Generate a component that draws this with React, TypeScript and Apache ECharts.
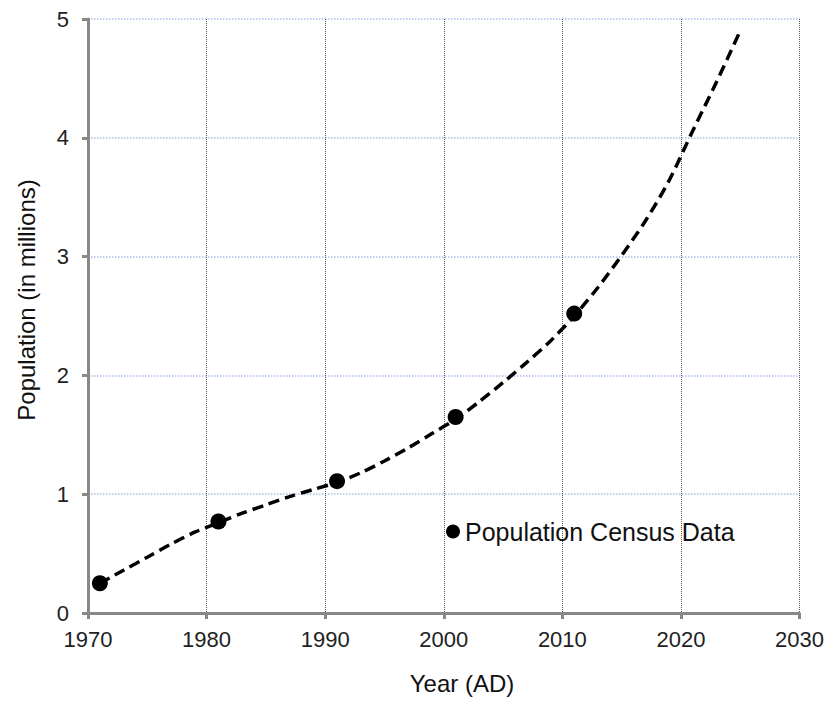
import React, { useEffect, useRef } from "react";
import * as echarts from "echarts";

const censusYears = [1971, 1981, 1991, 2001, 2011];
const censusValues = [0.25, 0.77, 1.11, 1.65, 2.52];

const fitYears = [1971, 1973, 1975, 1977, 1979, 1981, 1983, 1985, 1987, 1989, 1991, 1993, 1995, 1997, 1999, 2001, 2003, 2005, 2007, 2009, 2011, 2013, 2015, 2017, 2019, 2021, 2023, 2025];
const fitValues = [0.25, 0.36, 0.47, 0.58, 0.68, 0.76, 0.84, 0.91, 0.98, 1.04, 1.1, 1.18, 1.28, 1.39, 1.51, 1.63, 1.78, 1.94, 2.11, 2.29, 2.5, 2.74, 3.01, 3.3, 3.64, 4.06, 4.47, 4.9];

const xTicks = { min: 1970, max: 2030, interval: 10 };
const yTicks = { min: 0, max: 5, interval: 1 };

const FONT = "'Liberation Sans', Arial, sans-serif";

export default function App() {
  const ref = useRef<HTMLDivElement>(null);
  useEffect(() => {
    if (!ref.current) return;
    const chart = echarts.init(ref.current, null, { renderer: "svg" });
    chart.setOption({
      animation: false,
      backgroundColor: "#ffffff",
      textStyle: { fontFamily: FONT },
      grid: { left: 88, right: 27, top: 19, bottom: 89, containLabel: false },
      legend: {
        data: ["Population Census Data"],
        left: 446,
        top: 519,
        padding: 0,
        icon: "circle",
        itemWidth: 14,
        itemHeight: 14,
        textStyle: { fontSize: 25, color: "#111", fontFamily: FONT },
      },
      xAxis: {
        type: "value",
        min: xTicks.min,
        max: xTicks.max,
        interval: xTicks.interval,
        axisLine: { show: true, onZero: false, lineStyle: { color: "#888", width: 3 } },
        axisTick: { show: true, length: 6, lineStyle: { color: "#888", width: 3 } },
        axisLabel: {
          fontSize: 22,
          color: "#222",
          margin: 15,
          fontFamily: FONT,
          showMaxLabel: true,
          showMinLabel: true,
          formatter: (v: number) => String(v),
        },
        splitLine: { show: true, lineStyle: { color: "#555", type: "dotted", width: 1 } },
      },
      yAxis: {
        type: "value",
        min: yTicks.min,
        max: yTicks.max,
        interval: yTicks.interval,
        axisLine: { show: true, onZero: false, lineStyle: { color: "#888", width: 3 } },
        axisTick: { show: true, length: 6, lineStyle: { color: "#888", width: 3 } },
        axisLabel: { fontSize: 22, color: "#222", margin: 19, fontFamily: FONT },
        splitLine: { show: true, lineStyle: { color: "#a9bde6", type: "dotted", width: 1.5 } },
      },
      graphic: [
        {
          type: "text",
          x: 26,
          y: 300,
          rotation: Math.PI / 2,
          style: {
            text: "Population (in millions)",
            fontSize: 24,
            fontFamily: FONT,
            fill: "#111",
            align: "center",
            verticalAlign: "middle",
          },
        },
        {
          type: "text",
          x: 462,
          y: 683,
          style: {
            text: "Year (AD)",
            fontSize: 24,
            fontFamily: FONT,
            fill: "#111",
            align: "center",
            verticalAlign: "middle",
          },
        },
      ],
      series: [
        {
          name: "Fit",
          type: "line",
          smooth: 0.3,
          showSymbol: false,
          symbol: "none",
          data: fitYears.map((y, i) => [y, fitValues[i]]),
          lineStyle: { color: "#000", width: 3.5, type: [11, 6] },
          z: 2,
        },
        {
          name: "Population Census Data",
          type: "scatter",
          symbol: "circle",
          symbolSize: 16,
          data: censusYears.map((y, i) => [y, censusValues[i]]),
          itemStyle: { color: "#000", opacity: 1 },
          z: 3,
        },
      ],
    });
    return () => chart.dispose();
  }, []);
  return <div ref={ref} style={{ width: 827, height: 702, position: "absolute", left: 0, top: 0 }} />;
}
